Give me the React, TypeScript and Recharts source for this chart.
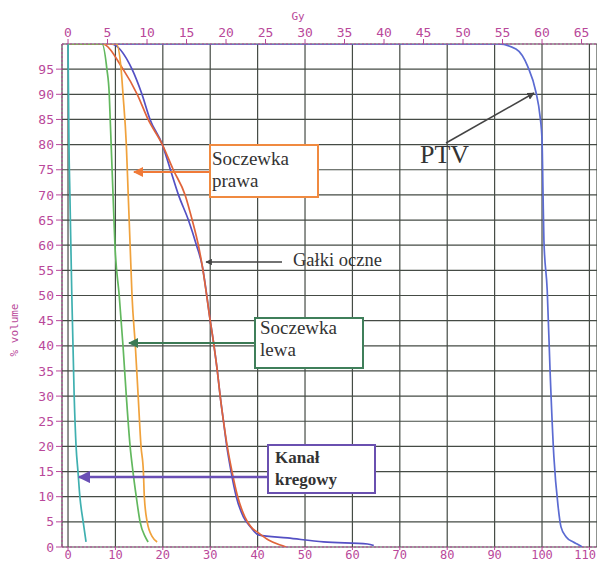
import { LineChart, Line, XAxis, YAxis, CartesianGrid } from 'recharts';

// dose as % of the prescribed 60 Gy (bottom axis), volume in %
const canalDose = [0, 0.1, 0.2, 0.4, 0.8, 1.3, 1.7, 2.1, 2.5, 3.2, 3.8];
const canalVolume = [100, 90, 80, 70, 50, 30, 20, 15, 10, 5, 1];

const lensLeftDose = [0, 7.2, 8.2, 8.7, 8.9, 9.1, 9.5, 9.9, 10.8, 11.6, 12.3, 13.1, 13.7, 14.4, 15.2, 16.3, 16.9];
const lensLeftVolume = [100, 100, 95, 90, 85, 80, 70, 60, 50, 40, 30, 20, 15, 10, 5, 2, 1];

const lensRightDose = [0, 10.2, 11.2, 11.6, 12.3, 12.7, 13.1, 13.5, 14.2, 14.8, 15.4, 15.9, 16.1, 16.7, 17.8, 18.8];
const lensRightVolume = [100, 100, 95, 90, 80, 70, 60, 50, 40, 30, 20, 15, 10, 5, 2, 1];

const eyeRedDose = [0, 7.2, 11.6, 14.6, 16.9, 19.9, 22.2, 24.7, 26.2, 27.5, 28.3, 30.0, 30.8, 31.5, 32.1, 32.8, 33.6, 34.6, 35.8, 37.3, 38.6, 40.2, 42.3, 44.8, 46.0];
const eyeRedVolume = [100, 100, 95, 90, 85, 80, 75, 70, 65, 60, 56, 45, 40, 35, 30, 25, 20, 15, 10, 6, 4, 2.8, 1.4, 0.4, 0];

const eyeBlueDose = [0, 9.1, 13.5, 15.6, 17.3, 19.9, 21.6, 23.3, 25.4, 27.1, 28.3, 30.0, 30.8, 31.5, 32.1, 32.8, 33.5, 34.4, 35.5, 37.0, 38.5, 40.2, 46.3, 53.9, 63.2, 64.5];
const eyeBlueVolume = [100, 100, 95, 90, 85, 80, 75, 70, 65, 60, 56, 45, 40, 35, 30, 25, 20, 15, 10, 6, 4, 2.4, 1.8, 1.0, 0.6, 0.3];

const ptvDose = [0, 90.7, 94.5, 97.0, 98.7, 99.6, 100.0, 100.2, 100.4, 101.1, 101.7, 102.5, 103.4, 104.0, 105.1, 106.6, 107.6, 108.5];
const ptvVolume = [100, 100, 99, 95.5, 90.5, 85.5, 81, 71, 61, 51, 35, 18, 8, 4, 2, 1, 0.5, 0];

const pctTicks = [0, 10, 20, 30, 40, 50, 60, 70, 80, 90, 100, 110];
const gyTicks = [0, 5, 10, 15, 20, 25, 30, 35, 40, 45, 50, 55, 60, 65];
const volumeTicks = [0, 5, 10, 15, 20, 25, 30, 35, 40, 45, 50, 55, 60, 65, 70, 75, 80, 85, 90, 95];

const PCT_DOMAIN: [number, number] = [-1.27, 111.6];
const GY_PER_PCT = 0.6;

const AXIS = '#b9489a';
const GRID = '#454b45';
const MONO = '"DejaVu Sans Mono", monospace';
const SERIF = '"Liberation Serif", "Times New Roman", serif';

const pts = (dose: number[], vol: number[]) => dose.map((d, i) => ({ dose: d, volume: vol[i] }));

const series = [
  { name: 'PTV', data: pts(ptvDose, ptvVolume), color: '#5b6bd2' },
  { name: 'Gałki oczne 1', data: pts(eyeBlueDose, eyeBlueVolume), color: '#5450c4' },
  { name: 'Gałki oczne 2', data: pts(eyeRedDose, eyeRedVolume), color: '#e0643a' },
  { name: 'Soczewka prawa', data: pts(lensRightDose, lensRightVolume), color: '#f0a23c' },
  { name: 'Soczewka lewa', data: pts(lensLeftDose, lensLeftVolume), color: '#62b85e' },
  { name: 'Kanał kręgowy', data: pts(canalDose, canalVolume), color: '#3fb0b0' },
];

const tickStyle = { fill: AXIS, fontSize: 13, fontFamily: MONO };

// bottom ticks: labels kept inside the picture
function PctTick(props: any) {
  const { x, payload } = props;
  const last = payload.value === pctTicks[pctTicks.length - 1];
  return (
    <text x={last ? 596 : x} y={559} textAnchor={last ? 'end' : 'middle'} fill={AXIS} fontSize={12} fontFamily={MONO}>
      {payload.value}
    </text>
  );
}

function Annotations() {
  return (
    <svg width={597} height={563} style={{ position: 'absolute', left: 0, top: 0, pointerEvents: 'none' }}>
      <defs>
        {[
          ['ah-orange', '#f07a38'],
          ['ah-gray', '#444'],
          ['ah-green', '#3c7a55'],
          ['ah-purple', '#6a4fb5'],
        ].map(([id, c]) => (
          <marker key={id} id={id} viewBox="0 0 10 10" refX="9" refY="5" markerWidth="5" markerHeight="5" orient="auto">
            <path d="M0,0 L10,5 L0,10 z" fill={c} />
          </marker>
        ))}
      </defs>
      <text x={18} y={330} transform="rotate(-90 18 330)" textAnchor="middle" fontFamily={MONO} fontSize={11} fill={AXIS}>
        % volume
      </text>
      <text x={298} y={20} textAnchor="middle" fontFamily={MONO} fontSize={11} fill={AXIS}>
        Gy
      </text>

      <line x1={210} y1={172} x2={134} y2={172} stroke="#f07a38" strokeWidth={2} markerEnd="url(#ah-orange)" />
      <rect x={210} y={145} width={108} height={52} fill="#fff" stroke="#f08a40" strokeWidth={2} />
      <text x={212} y={165} fontFamily={SERIF} fontSize={19} fill="#333">Soczewka</text>
      <text x={212} y={187} fontFamily={SERIF} fontSize={19} fill="#333">prawa</text>

      <line x1={282} y1={262} x2={206} y2={262} stroke="#444" strokeWidth={1.3} markerEnd="url(#ah-gray)" />
      <text x={293} y={266} fontFamily={SERIF} fontSize={18.5} fill="#333">Gałki oczne</text>

      <line x1={255} y1={343} x2={129} y2={343} stroke="#3c7a55" strokeWidth={2} markerEnd="url(#ah-green)" />
      <rect x={255} y={318} width={108} height={50} fill="#fff" stroke="#3f7f5a" strokeWidth={2} />
      <text x={260} y={334} fontFamily={SERIF} fontSize={19} fill="#333">Soczewka</text>
      <text x={260} y={356} fontFamily={SERIF} fontSize={19} fill="#333">lewa</text>

      <line x1={268} y1={477} x2={79} y2={477} stroke="#6a4fb5" strokeWidth={2.5} markerEnd="url(#ah-purple)" />
      <rect x={268} y={445} width={107} height={48} fill="#fff" stroke="#6a50b0" strokeWidth={2} />
      <text x={275} y={463} fontFamily={SERIF} fontSize={17} fontWeight="bold" fill="#333">Kanał</text>
      <text x={275} y={485} fontFamily={SERIF} fontSize={17} fontWeight="bold" fill="#333">kregowy</text>

      <line x1={446} y1={143} x2={534} y2={93} stroke="#444" strokeWidth={1.5} markerEnd="url(#ah-gray)" />
      <text x={420} y={163} fontFamily={SERIF} fontSize={26} fill="#333">PTV</text>
    </svg>
  );
}

export default function App() {
  return (
    <div style={{ position: 'absolute', left: 0, top: 0, width: 597, height: 563, background: '#fff' }}>
      <LineChart width={597} height={563} margin={{ top: 14, right: 0, bottom: 0, left: 8 }}>
        <CartesianGrid xAxisId="pct" stroke={GRID} strokeWidth={1.2} />
        <XAxis
          xAxisId="pct"
          type="number"
          dataKey="dose"
          domain={PCT_DOMAIN}
          allowDataOverflow
          ticks={pctTicks}
          height={16}
          tick={<PctTick />}
          tickSize={3}
          tickMargin={1}
          stroke={AXIS}
          axisLine={{ stroke: AXIS, strokeDasharray: '2 2' }}
        />
        <XAxis
          xAxisId="gy"
          orientation="top"
          type="number"
          dataKey="dose"
          domain={[PCT_DOMAIN[0] * GY_PER_PCT, PCT_DOMAIN[1] * GY_PER_PCT]}
          allowDataOverflow
          ticks={gyTicks}
          height={30}
          tick={tickStyle}
          tickSize={5}
          tickMargin={2}
          stroke={AXIS}
          axisLine={{ stroke: AXIS, strokeDasharray: '2 2' }}
        />
        <YAxis
          type="number"
          domain={[0, 100]}
          allowDataOverflow
          ticks={volumeTicks}
          width={54}
          tick={tickStyle}
          tickSize={6}
          tickMargin={2}
          stroke={AXIS}
          axisLine={{ stroke: AXIS, strokeDasharray: '2 2' }}
        />
        {series.map((s) => (
          <Line
            key={s.name}
            xAxisId="pct"
            data={s.data}
            dataKey="volume"
            type="monotone"
            stroke={s.color}
            strokeWidth={1.7}
            dot={false}
            activeDot={false}
            isAnimationActive={false}
          />
        ))}
      </LineChart>
      <Annotations />
    </div>
  );
}
